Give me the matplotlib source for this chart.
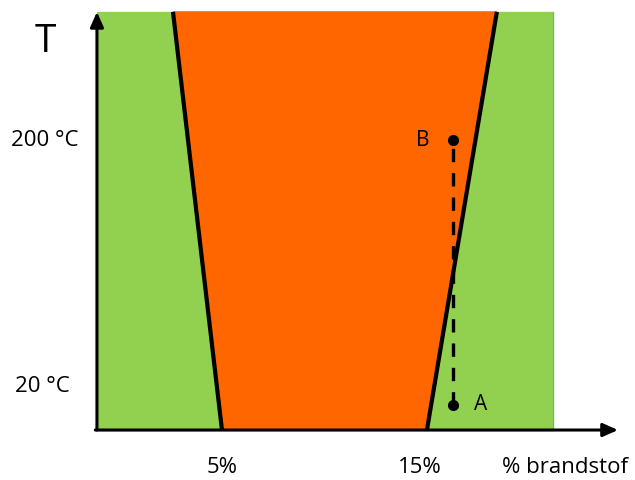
import matplotlib
matplotlib.use('Agg')
import matplotlib.pyplot as plt

plt.rcParams['font.family'] = ['Open Sans', 'DejaVu Sans']

# assen (in % brandstof en °C)
x_min, x_max = -5.83, 25.15
t_min, t_max = -30.95, 295.1
x_as, t_as = -1.1, 3.0          # oorsprong van de getekende assen
x_pijl, t_top = 24.32, 287.0    # einde van de pijlen
x_groen = 21.15                 # rechterrand groen vlak

# explosiegrenzen: onder (bij t_as) en boven (bij t_top)
ondergrens = [5.0, 2.61]
bovengrens = [15.0, 18.41]

# punten A en B
punt_x = 16.27
punt_A = 20
punt_B = 200

tick_T = [200, 20]
tick_T_labels = ['200 °C', '20 °C']
tick_x = [5, 15]
tick_x_labels = ['5%', '15%']

groen = '#92D050'
oranje = '#FF6600'

fig = plt.figure(figsize=(6.35, 4.8), dpi=100)
ax = fig.add_axes([0, 0, 1, 1])
ax.set_xlim(x_min, x_max)
ax.set_ylim(t_min, t_max)
ax.axis('off')

# groen vlak
ax.fill([x_as, x_groen, x_groen, x_as], [t_as, t_as, t_top, t_top], color=groen, zorder=1)
ax.plot([x_groen, x_groen], [t_as, t_top], color='#7f9fb8', lw=0.8, zorder=1)

# oranje vlak (explosief gebied)
ax.fill([ondergrens[0], bovengrens[0], bovengrens[1], ondergrens[1]],
        [t_as, t_as, t_top, t_top], color=oranje, zorder=2)
ax.plot([ondergrens[0], ondergrens[1]], [t_as, t_top], color='black', lw=3, zorder=3,
        solid_capstyle='butt')
ax.plot([bovengrens[0], bovengrens[1]], [t_as, t_top], color='black', lw=3, zorder=3,
        solid_capstyle='butt')

# assen met pijlen
ax.annotate('', xy=(x_as, t_top), xytext=(x_as, t_as),
            arrowprops=dict(arrowstyle='-|>,head_length=0.9,head_width=0.4',
                            color='black', lw=2.2, shrinkA=0, shrinkB=0), zorder=5)
ax.annotate('', xy=(x_pijl, t_as), xytext=(x_as - 0.08, t_as),
            arrowprops=dict(arrowstyle='-|>,head_length=0.9,head_width=0.4',
                            color='black', lw=2.2, shrinkA=0, shrinkB=0), zorder=5)

# lijn A-B
ax.plot([punt_x, punt_x], [punt_A, punt_B], color='black', lw=2.4,
        linestyle=(0, (4, 3.3)), zorder=4)
ax.plot([punt_x, punt_x], [punt_A, punt_B], 'o', color='black', ms=7, zorder=4)
ax.annotate('B', xy=(punt_x, punt_B), xytext=(-22, 0), textcoords='offset points',
            ha='center', va='center', fontsize=15)
ax.annotate('A', xy=(punt_x, punt_A), xytext=(20, 0), textcoords='offset points',
            ha='center', va='center', fontsize=15)

# labels
ax.annotate('T', xy=(x_as, t_top), xytext=(-37, -22), textcoords='offset points',
            ha='center', va='center', fontsize=28)
for t, lab, dx, dy in zip(tick_T, tick_T_labels, [-37.5, -39.5], [0, 13]):
    ax.annotate(lab, xy=(x_as, t), xytext=(dx, dy), textcoords='offset points',
                ha='center', va='center', fontsize=16)
for x, lab, dx in zip(tick_x, tick_x_labels, [0, -5]):
    ax.annotate(lab, xy=(x, t_as), xytext=(dx, -27), textcoords='offset points',
                ha='center', va='center', fontsize=16)
ax.annotate('% brandstof', xy=(x_pijl, t_as), xytext=(-38, -27), textcoords='offset points',
            ha='center', va='center', fontsize=16)

fig.savefig('out.png', dpi=100)
